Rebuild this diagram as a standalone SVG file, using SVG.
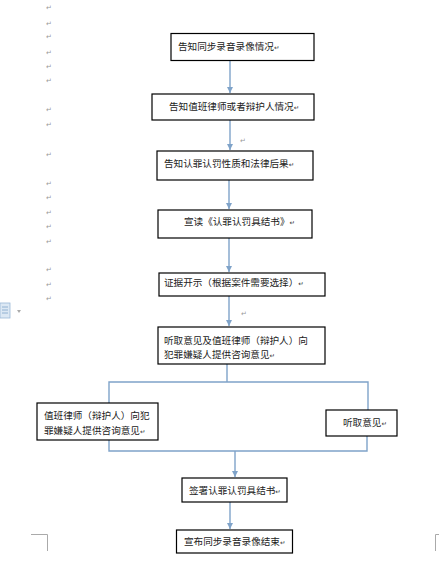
<svg xmlns="http://www.w3.org/2000/svg" width="439" height="573" viewBox="0 0 439 573">
<style>
.box{fill:#fff;stroke:#000;stroke-width:1.2}
.t{font-family:"Noto Sans CJK SC","Liberation Sans",sans-serif;font-size:9.6px;fill:#222}
.pm{font-family:"DejaVu Sans",sans-serif;font-size:7px;fill:#999}
.pmi{font-family:"DejaVu Sans",sans-serif;font-size:6.5px;fill:#333}
.c{fill:none;stroke:#7fa3c9;stroke-width:1.4}
.cm{fill:none;stroke:#aaa;stroke-width:1}
</style>
<defs>
<marker id="ah" viewBox="0 0 10 10" refX="10" refY="5" markerWidth="6" markerHeight="6" orient="auto" markerUnits="userSpaceOnUse">
<path d="M0,0 L10,5 L0,10 z" fill="#7fa3c9"/>
</marker>
</defs>
<rect width="439" height="573" fill="#fff"/>
<g id="margin-marks">
<text class="pm" x="46" y="10">↵</text>
<text class="pm" x="46" y="26">↵</text>
<text class="pm" x="46" y="39">↵</text>
<text class="pm" x="46" y="55">↵</text>
<text class="pm" x="46" y="69">↵</text>
<text class="pm" x="46" y="83">↵</text>
<text class="pm" x="46" y="112">↵</text>
<text class="pm" x="46" y="127">↵</text>
<text class="pm" x="46" y="157">↵</text>
<text class="pm" x="46" y="186">↵</text>
<text class="pm" x="46" y="200">↵</text>
<text class="pm" x="46" y="215">↵</text>
<text class="pm" x="46" y="229">↵</text>
<text class="pm" x="46" y="244">↵</text>
<text class="pm" x="46" y="272">↵</text>
<text class="pm" x="46" y="287">↵</text>
<text class="pm" x="46" y="301">↵</text>
<text class="pm" x="240" y="143">↵</text>
<text class="pm" x="241" y="316">↵</text>
<rect x="0" y="303" width="10" height="15" fill="#dce8f4" stroke="#9bb8d8" stroke-width="0.8"/>
<path d="M2,307 H8 M2,310 H8 M2,313 H8" stroke="#7fa3c9" stroke-width="0.8"/>
<path d="M17,310 L21,310 L19,313 z" fill="#aaa"/>
<path class="cm" d="M31,534.5 H47.5 V551"/>
<path class="cm" d="M439,534.5 H435.5 V551"/>
</g>
<g id="connectors">
<line class="c" x1="230" y1="61" x2="230" y2="93" marker-end="url(#ah)"/>
<line class="c" x1="230" y1="120" x2="230" y2="150" marker-end="url(#ah)"/>
<line class="c" x1="229" y1="180" x2="229" y2="209" marker-end="url(#ah)"/>
<line class="c" x1="229" y1="238" x2="229" y2="272" marker-end="url(#ah)"/>
<line class="c" x1="229" y1="296" x2="229" y2="326" marker-end="url(#ah)"/>
<path class="c" d="M227,364 V382 M109,403 V382 H368 V410"/>
<path class="c" d="M109,440 V451 H367 V436"/>
<line class="c" x1="235" y1="451" x2="235" y2="477" marker-end="url(#ah)"/>
<line class="c" x1="230" y1="502" x2="230" y2="529" marker-end="url(#ah)" stroke-width="2"/>
</g>
<g id="n1">
<rect class="box" x="171" y="33.5" width="143" height="27"/>
<text class="t" x="178" y="50">告知同步录音录像情况<tspan class="pmi">↵</tspan></text>
</g>
<g id="n2">
<rect class="box" x="152" y="94" width="162" height="26"/>
<text class="t" x="169" y="110">告知值班律师或者辩护人情况<tspan class="pmi">↵</tspan></text>
</g>
<g id="n3">
<rect class="box" x="157" y="151" width="156" height="29"/>
<text class="t" x="164" y="167">告知认罪认罚性质和法律后果<tspan class="pmi">↵</tspan></text>
</g>
<g id="n4">
<rect class="box" x="158" y="210" width="154" height="28"/>
<text class="t" x="184" y="225">宣读《认罪认罚具结书》<tspan class="pmi">↵</tspan></text>
</g>
<g id="n5">
<rect class="box" x="159" y="273" width="166" height="23"/>
<text class="t" x="164" y="286">证据开示（根据案件需要选择）<tspan class="pmi">↵</tspan></text>
</g>
<g id="n6">
<rect class="box" x="158" y="327" width="167" height="37"/>
<text class="t" x="164" y="344">听取意见及值班律师（辩护人）向</text>
<text class="t" x="164" y="358">犯罪嫌疑人提供咨询意见<tspan class="pmi">↵</tspan></text>
</g>
<g id="n7">
<rect class="box" x="37" y="403" width="121" height="37"/>
<text class="t" x="44" y="419">值班律师（辩护人）向犯</text>
<text class="t" x="44" y="434">罪嫌疑人提供咨询意见<tspan class="pmi">↵</tspan></text>
</g>
<g id="n8">
<rect class="box" x="326" y="410" width="71" height="26"/>
<text class="t" x="343" y="426">听取意见<tspan class="pmi">↵</tspan></text>
</g>
<g id="n9">
<rect class="box" x="182" y="478" width="105" height="24"/>
<text class="t" x="189" y="494">签署认罪认罚具结书<tspan class="pmi">↵</tspan></text>
</g>
<g id="n10">
<rect class="box" x="176.5" y="530" width="116" height="23"/>
<text class="t" x="184" y="545">宣布同步录音录像结束<tspan class="pmi">↵</tspan></text>
</g>
</svg>
